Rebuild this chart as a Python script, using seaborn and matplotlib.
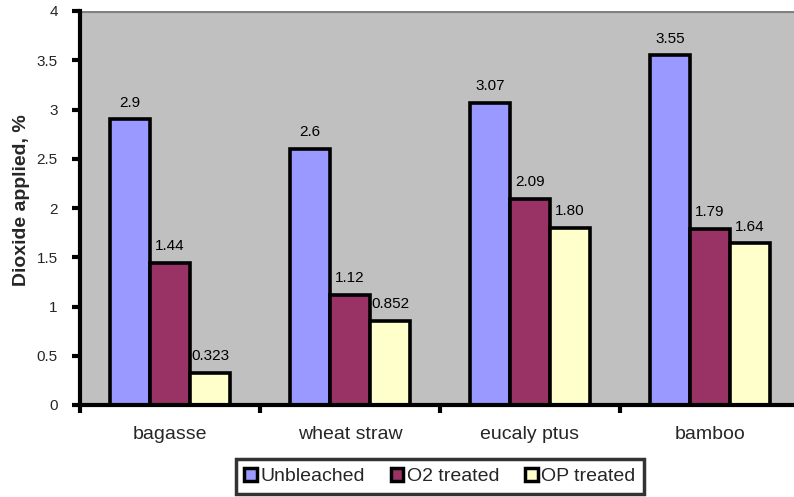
import matplotlib
matplotlib.use("Agg")
import matplotlib.pyplot as plt
import seaborn as sns
import pandas as pd

categories = ["bagasse", "wheat straw", "eucaly ptus", "bamboo"]
series = ["Unbleached", "O2 treated", "OP treated"]
unbleached_labels = ["2.9", "2.6", "3.07", "3.55"]
o2_labels = ["1.44", "1.12", "2.09", "1.79"]
op_labels = ["0.323", "0.852", "1.80", "1.64"]
colors = ["#9999FF", "#993366", "#FFFFCC"]
y_ticks = [0, 0.5, 1, 1.5, 2, 2.5, 3, 3.5, 4]

# long-form table: each bar's height comes from its printed label
label_sets = [unbleached_labels, o2_labels, op_labels]
rows = []
for s, labs in zip(series, label_sets):
    for c, lab in zip(categories, labs):
        rows.append({"category": c, "series": s, "value": float(lab)})
df = pd.DataFrame(rows)

sns.set_theme(style="white")
plt.rcParams["font.family"] = ["Liberation Sans", "DejaVu Sans"]

fig = plt.figure(figsize=(7.94, 4.97), dpi=100)
ax = fig.add_axes([80 / 794, 1 - 405 / 497, 720 / 794, 394 / 497])
ax.set_facecolor("#C0C0C0")

sns.barplot(data=df, x="category", y="value", hue="series", order=categories,
            hue_order=series, palette=colors, width=2 / 3, gap=0,
            edgecolor="black", linewidth=2.6, saturation=1, ax=ax,
            errorbar=None, legend=True)

for container, labs in zip(ax.containers, label_sets):
    ax.bar_label(container, labels=labs, padding=7, fontsize=11, color="black")

ax.set_xlim(-0.5, 3.5)
ax.set_ylim(0, 4)
ax.set_yticks(y_ticks)
ax.set_yticklabels([f"{t:g}" for t in y_ticks], fontsize=11)
ax.axhline(4, color="#808080", lw=3, zorder=0.5)

ax.set_xticks([0, 1, 2, 3])
ax.set_xticklabels(categories, fontsize=14)
ax.set_xticks([-0.5, 0.5, 1.5, 2.5], minor=True)
ax.tick_params(axis="x", which="major", bottom=False, length=0, pad=15)
ax.tick_params(axis="x", which="minor", bottom=True, length=6, width=3,
               color="black", direction="out")
ax.tick_params(axis="y", left=True, length=6, width=3, color="black",
               direction="out", pad=10)

for side in ["top", "right"]:
    ax.spines[side].set_visible(False)
for side in ["left", "bottom"]:
    ax.spines[side].set_color("black")
    ax.spines[side].set_linewidth(3)

ax.set_xlabel("")
ax.set_ylabel("Dioxide applied, %", fontsize=14, fontweight="bold", labelpad=5)
ax.yaxis.label.set_y(0.52)

handles, lbls = ax.get_legend_handles_labels()
ax.legend_.remove()
leg = fig.legend(handles, lbls, loc="center", bbox_to_anchor=(440 / 794, 1 - 476.5 / 497),
                 ncol=3, frameon=True, fancybox=False, fontsize=14,
                 handlelength=0.65, handleheight=0.65, handletextpad=0.2,
                 columnspacing=1.3, borderpad=0.45, borderaxespad=0)
leg.get_frame().set_edgecolor("black")
leg.get_frame().set_linewidth(2.5)
for h in leg.legend_handles:
    h.set_edgecolor("black")
    h.set_linewidth(2.5)

fig.savefig("out.png", dpi=100)
